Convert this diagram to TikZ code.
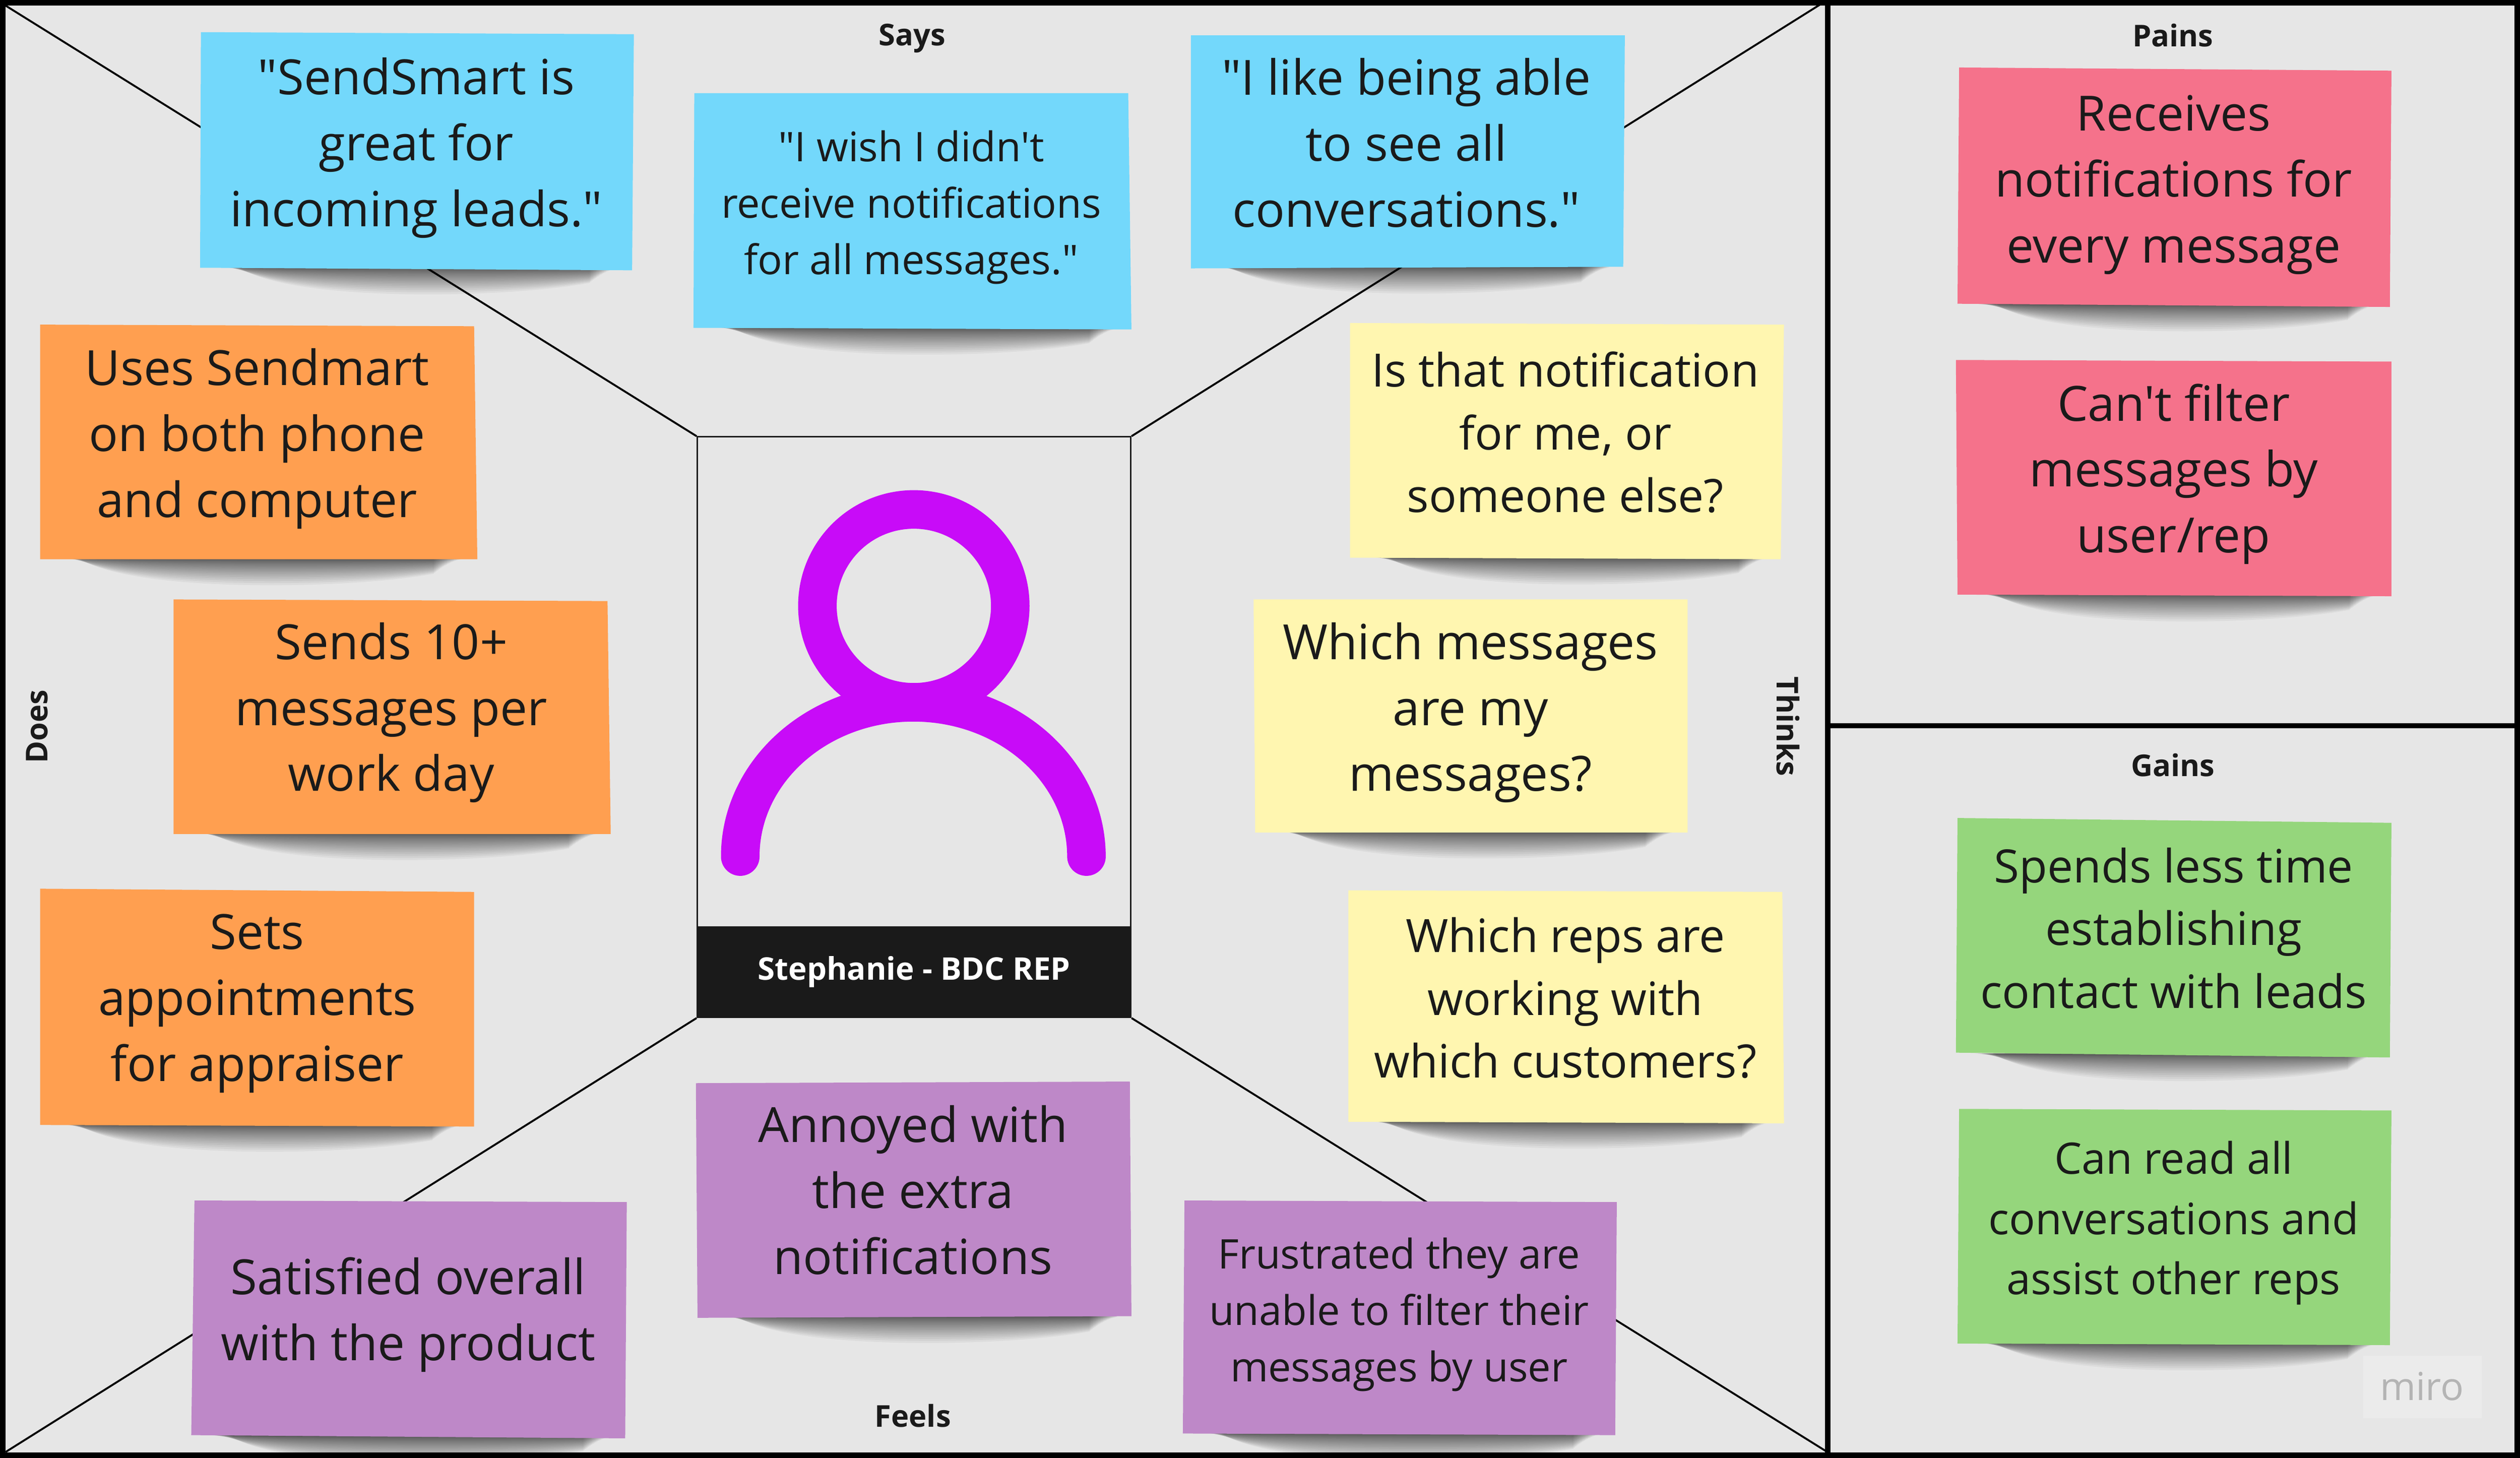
\documentclass[tikz,border=0pt]{standalone}
\usepackage{fontspec}
\newfontfamily\opensans{Open Sans}
\definecolor{board}{HTML}{E6E6E6}
\definecolor{inkblack}{HTML}{1A1A1A}
\definecolor{noteblue}{HTML}{73D8FB}
\definecolor{noteorange}{HTML}{FF9F50}
\definecolor{noteyellow}{HTML}{FFF6B0}
\definecolor{notepurple}{HTML}{BE88C8}
\definecolor{notepink}{HTML}{F5728B}
\definecolor{notegreen}{HTML}{95D67C}
\definecolor{iconpurple}{HTML}{C80BF8}
\newcommand{\fs}[2]{\opensans\fontsize{#1}{#2}\selectfont}
\newcommand{\noteshadow}[3]{%
  \foreach \i in {1,...,20}{%
    \pgfmathsetmacro{\dd}{pow(\i/20,1.6)}%
    \fill[black,opacity=.042]
      ({#1+10+\i*.7},{#3-1}) .. controls ({#1+25+\i*1.5},{#3+\dd*21}) and ({#2-40-\i*2},{#3+\dd*19}) ..
      ({#2-8-\i*.9},{#3+\dd*9}) -- ({#2-8-\i*.9},{#3-1}) -- cycle;
  }%
}
\tikzset{
  x=1pt,y=-1pt,
  diag/.style={line width=1.2pt,black},
  notetext/.style={text=inkblack,align=center,inner sep=0pt,font=\fs{30.2}{41}},
  midtext/.style={text=inkblack,align=center,inner sep=0pt,font=\fs{28.6}{39}},
  lowtext/.style={text=inkblack,align=center,inner sep=0pt,font=\fs{27}{37.5}},
  smalltext/.style={text=inkblack,align=center,inner sep=0pt,font=\fs{25.4}{35}},
  heading/.style={text=inkblack,inner sep=0pt,font=\fs{18.7}{22}\bfseries},
  iconline/.style={iconpurple,line width=24pt},
}
\begin{document}
\begin{tikzpicture}
\useasboundingbox (0,0) rectangle (1568,907.15);
\fill[board] (0,0) rectangle (1568,907.15);

% portrait box and connectors
\coordinate (tl) at (3.5,3.5);
\coordinate (tr) at (1137,0);
\coordinate (bl) at (3.5,903.5);
\coordinate (br) at (1137,903.5);
\node[draw=inkblack,line width=.9pt,fill=board,minimum width=269.8pt,minimum height=361.2pt,inner sep=0pt,anchor=north west] (portrait) at (433.4,271.4) {};
\draw[diag] (tl) -- (portrait.north west);
\draw[diag] (tr) -- (portrait.north east);
\draw[diag] (bl) -- (portrait.south west);
\draw[diag] (br) -- (portrait.south east);
\node[fill=inkblack,text=white,minimum width=270.6pt,minimum height=57pt,inner sep=0pt,font=\fs{19.4}{22}\bfseries,anchor=south] (name) at (portrait.south) {Stephanie - BDC REP};

% icon
\draw[iconline] (568.6,377) circle[radius=60];
\draw[iconline,line cap=round] (460.6,533) .. controls (460.6,480) and (508.8,437) .. (568.3,437) .. controls (627.8,437) and (676,480) .. (676,533);

% frame
\draw[line width=3.5pt,black] (1.75,1.75) rectangle (1566.25,905.4);
\draw[line width=3.5pt,black] (1137.3,0) -- (1137.3,907.15);
\draw[line width=3pt,black] (1137.3,451.6) -- (1568,451.6);

% headings
\node[heading] (says) at (567.5,24) {Says};
\node[heading] (feels) at (568,881) {Feels};
\node[heading] (pains) at (1352,22) {Pains};
\node[heading] (gains) at (1352,476) {Gains};
\node[heading,rotate=90] (does) at (23,452) {Does};
\node[heading,rotate=-90] (thinks) at (1112.5,452) {Thinks};

% miro mark
\fill[white,opacity=.2] (1470.6,843.5) rectangle (1544,882.6);
\node[text=black!22!board,inner sep=0pt,font=\fs{24}{26}] (miro) at (1507,862.5) {miro};

% Says
\noteshadow{124.5}{393}{167}
\fill[noteblue] (125,20)--(394.4,21.3)--(393.3,168.2)--(124.5,166.6)--cycle;
\node[notetext] (s1) at (259,92) {"SendSmart is\\great for\\incoming leads."};
\noteshadow{432}{704}{204.5}
\fill[noteblue] (432,58)--(702,58)--(704,205)--(431.5,204)--cycle;
\node[smalltext] (s2) at (567,129) {"I wish I didn't\\receive notifications\\for all messages."};
\noteshadow{741}{1010}{166.5}
\fill[noteblue] (741,22)--(1011,22)--(1010,166)--(741,167)--cycle;
\node[notetext] (s3) at (875,89) {"I like being able\\to see all\\conversations."};

% Does
\noteshadow{25}{296}{348}
\fill[noteorange] (25,202)--(295,203)--(297,348)--(25,348)--cycle;
\node[notetext] (d1) at (160,273) {Uses Sendmart\\on both phone\\and computer};
\noteshadow{108}{380}{519}
\fill[noteorange] (108,373)--(378,374)--(380,519)--(108,519)--cycle;
\node[notetext] (d2) at (243.5,443.5) {Sends 10+\\messages per\\work day};
\noteshadow{25}{295}{700.5}
\fill[noteorange] (25,553)--(295,555)--(295,701)--(25,700)--cycle;
\node[notetext] (d3) at (160,624.5) {Sets\\appointments\\for appraiser};

% Feels
\noteshadow{119}{389}{894}
\fill[notepurple] (121,747)--(390,748)--(389,895)--(119,893)--cycle;
\node[notetext] (f1) at (254,818) {Satisfied overall\\with the product};
\noteshadow{434}{704}{819.5}
\fill[notepurple] (433,674)--(703,673)--(704,819)--(434,820)--cycle;
\node[notetext] (f2) at (568,740.5) {Annoyed with\\the extra\\notifications};
\noteshadow{736}{1005}{892.5}
\fill[notepurple] (737,747)--(1006,748)--(1005,893)--(736,892)--cycle;
\node[smalltext] (f3) at (870.5,818) {Frustrated they are\\unable to filter their\\messages by user};

% Thinks
\noteshadow{840}{1108}{347.5}
\fill[noteyellow] (840,201)--(1110,202)--(1108,348)--(840,347)--cycle;
\node[midtext] (t1) at (974,269) {Is that notification\\for me, or\\someone else?};
\noteshadow{781}{1050}{518}
\fill[noteyellow] (780,373)--(1050,373)--(1050,518)--(781,518)--cycle;
\node[notetext] (t2) at (915,443.5) {Which messages\\are my\\messages?};
\noteshadow{839}{1110}{698.5}
\fill[noteyellow] (839,554)--(1109,555)--(1110,699)--(839,698)--cycle;
\node[midtext] (t3) at (974,621) {Which reps are\\working with\\which customers?};

% Pains
\noteshadow{1218}{1487}{190}
\fill[notepink] (1219,42)--(1488,44)--(1487,191)--(1218,189)--cycle;
\node[notetext] (p1) at (1352.5,115) {Receives\\notifications for\\every message};
\noteshadow{1218}{1488}{370.5}
\fill[notepink] (1217,224)--(1488,225)--(1488,371)--(1218,370)--cycle;
\node[notetext] (p2) at (1352.5,295) {Can't filter\\messages by\\user/rep};

% Gains
\noteshadow{1217}{1487}{656.5}
\fill[notegreen] (1218,509)--(1488,512)--(1487,658)--(1217,655)--cycle;
\node[midtext] (g1) at (1352.5,577.5) {Spends less time\\establishing\\contact with leads};
\noteshadow{1218}{1487}{836.5}
\fill[notegreen] (1219,690)--(1488,691)--(1487,837)--(1218,836)--cycle;
\node[lowtext] (g2) at (1352.5,761) {Can read all\\conversations and\\assist other reps};
\end{tikzpicture}
\end{document}
